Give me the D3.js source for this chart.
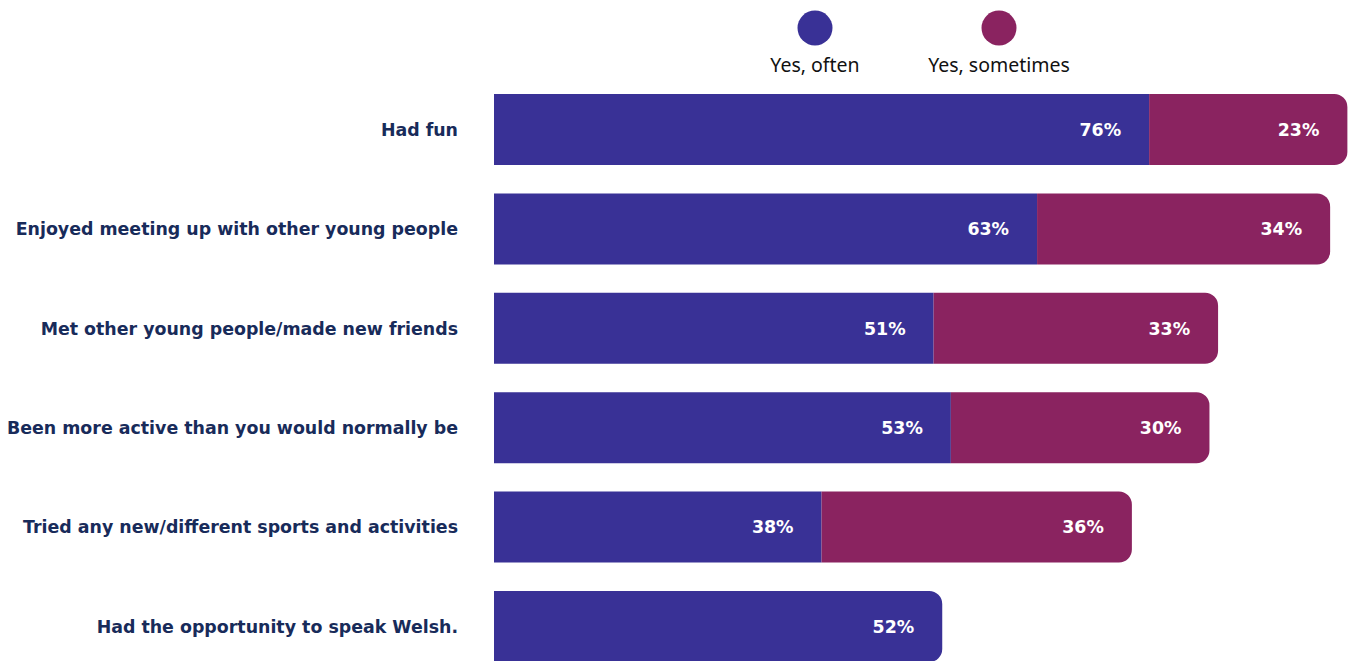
<!doctype html>
<html>
<head>
<meta charset="utf-8">
<title>Holiday activities</title>
<script src="https://d3js.org/d3.v7.min.js"></script>
<style>
  body { margin: 0; background: #fff; }
  svg { display: block; }
  .cat { font-family: "DejaVu Sans", sans-serif; font-weight: bold; font-size: 17.4px; fill: #182b5a; }
  .val { font-family: "DejaVu Sans", sans-serif; font-weight: bold; font-size: 17.4px; fill: #fff; }
  .leg { font-family: "Noto Sans", "Open Sans", sans-serif; font-size: 19.5px; fill: #111; }
</style>
</head>
<body>
<svg id="chart" width="1354" height="661"></svg>
<script>
// data
var categories = [
  "Had fun",
  "Enjoyed meeting up with other young people",
  "Met other young people/made new friends",
  "Been more active than you would normally be",
  "Tried any new/different sports and activities",
  "Had the opportunity to speak Welsh."
];
var seriesNames = ["Yes, often", "Yes, sometimes"];
var often     = [76, 63, 51, 53, 38, 52];
var sometimes = [23, 34, 33, 30, 36, 0];
var colours = ["#393196", "#8a2360"];

var svg = d3.select("#chart");

var x = d3.scaleLinear().domain([0, 100]).range([494, 1356]);
var y = d3.scaleBand().domain(categories).range([94, 662]).paddingInner(0.285).paddingOuter(0);
var colour = d3.scaleOrdinal().domain(seriesNames).range(colours);

// rows: stacked segments
var rows = categories.map(function(c, i) {
  var segs = [];
  var start = 0;
  [often[i], sometimes[i]].forEach(function(v, k) {
    if (v > 0) segs.push({ cat: c, series: seriesNames[k], v: v, x0: start, x1: start + v });
    start += v;
  });
  segs[segs.length - 1].last = true;
  return segs;
});

// bar with rounded right end only
function segPath(d) {
  var x0 = x(d.x0), x1 = x(d.x1), y0 = y(d.cat), h = y.bandwidth();
  var r = d.last ? 13 : 0;
  var p = d3.path();
  p.moveTo(x0, y0);
  p.lineTo(x1 - r, y0);
  if (r) p.arcTo(x1, y0, x1, y0 + r, r);
  p.lineTo(x1, y0 + h - r);
  if (r) p.arcTo(x1, y0 + h, x1 - r, y0 + h, r);
  p.lineTo(x0, y0 + h);
  p.closePath();
  return p.toString();
}

var segs = d3.merge(rows);

svg.append("g").selectAll("path")
  .data(segs)
  .join("path")
  .attr("d", segPath)
  .attr("fill", function(d) { return colour(d.series); });

svg.append("g").selectAll("text")
  .data(segs)
  .join("text")
  .attr("class", "val")
  .attr("x", function(d) { return x(d.x1) - 28; })
  .attr("y", function(d) { return y(d.cat) + y.bandwidth() / 2; })
  .attr("dy", "0.36em")
  .attr("text-anchor", "end")
  .text(function(d) { return d.v + "%"; });

// category labels
svg.append("g").selectAll("text")
  .data(categories)
  .join("text")
  .attr("class", "cat")
  .attr("x", 458)
  .attr("y", function(d) { return y(d) + y.bandwidth() / 2; })
  .attr("dy", "0.36em")
  .attr("text-anchor", "end")
  .text(function(d) { return d; });

// legend
var legX = [815, 999];
var leg = svg.append("g").selectAll("g")
  .data(seriesNames)
  .join("g")
  .attr("transform", function(d, i) { return "translate(" + legX[i] + ",0)"; });
leg.append("circle").attr("cy", 28).attr("r", 17.5).attr("fill", function(d) { return colour(d); });
leg.append("text").attr("class", "leg").attr("y", 72).attr("text-anchor", "middle").text(function(d) { return d; });
</script>
</body>
</html>
